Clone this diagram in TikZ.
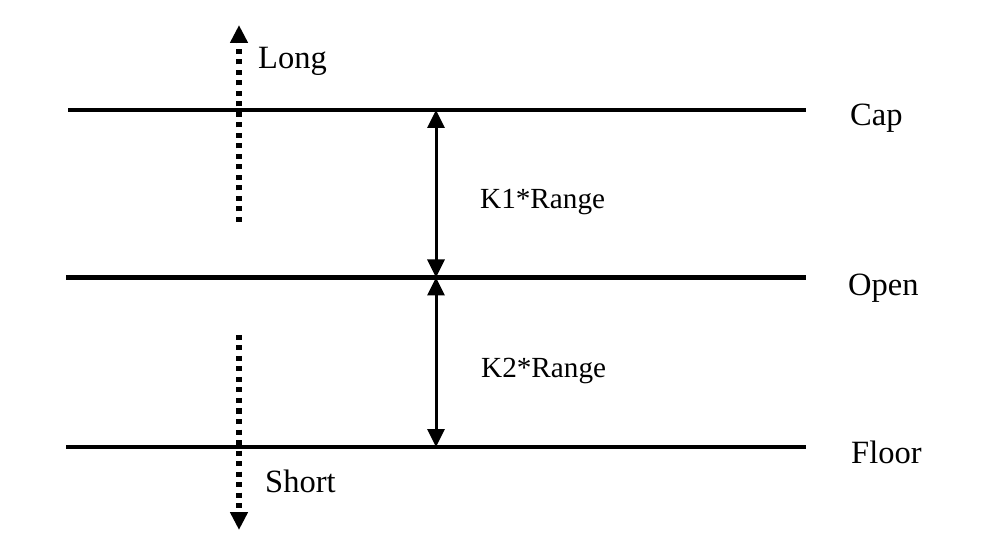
\documentclass[tikz,border=0pt]{standalone}
\usepackage{fontspec}
\setmainfont{Liberation Serif}
\usetikzlibrary{arrows.meta}
\begin{document}
\begin{tikzpicture}[x=1pt, y=1pt,
        lvl/.style = {line width=4.5pt},
        span/.style = {line width=3pt, {Triangle[width=17pt,length=18pt]}-{Triangle[width=17pt,length=18pt]}},
        trend/.style = {line width=5.5pt, dash pattern=on 5pt off 5.5pt, -{Triangle[width=17pt,length=18pt]}},
        side/.style = {anchor=base west, inner sep=0pt, font=\fontsize{32.5}{38}\selectfont},
        klab/.style = {anchor=base west, inner sep=0pt, font=\fontsize{29.2}{34}\selectfont}]
            \useasboundingbox (0,0) rectangle (1004,552);
            % levels
            \coordinate (capL) at (68,442);
            \coordinate (capR) at (806,442);
            \coordinate (openL) at (66,274.5);
            \coordinate (openR) at (806,274.5);
            \coordinate (floorL) at (66,105);
            \coordinate (floorR) at (806,105);
            \draw[lvl] (capL) -- (capR);
            \draw[lvl] (openL) -- (openR);
            \draw[lvl] (floorL) -- (floorR);
            \node[side] (cap) at (850,426) {Cap};
            \node[side] (open) at (848,256) {Open};
            \node[side] (floor) at (851,89) {Floor};
            
            % ranges
            \coordinate (capM) at (436,442);
            \coordinate (openM) at (436,274.5);
            \coordinate (floorM) at (436,105);
            \draw[span] (capM) -- (openM);
            \draw[span] (openM) -- (floorM);
            \node[klab] (k1) at (480,343) {K1*Range};
            \node[klab] (k2) at (481,174) {K2*Range};
            
            % signals
            \coordinate (longS) at (239,330);
            \coordinate (longE) at (239,527);
            \coordinate (shortS) at (239,217);
            \coordinate (shortE) at (239,22);
            \draw[trend] (longS) -- (longE);
            \draw[trend] (shortS) -- (shortE);
            \node[side] (long) at (258,483) {Long};
            \node[side] (short) at (265,60) {Short};
        \end{tikzpicture}
\end{document}
